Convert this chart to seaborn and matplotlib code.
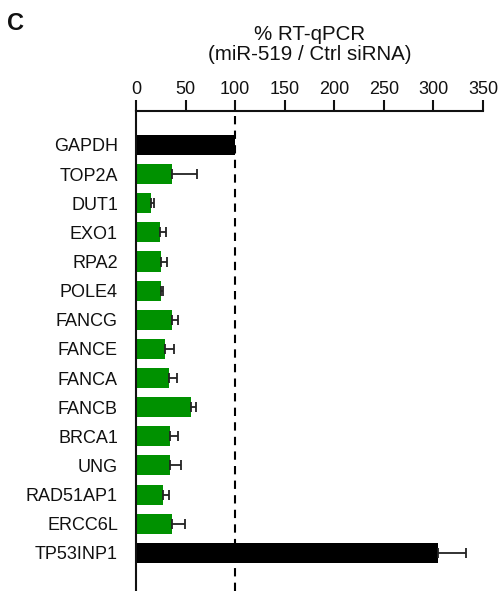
import matplotlib
matplotlib.use("Agg")
import matplotlib.pyplot as plt
import seaborn as sns
import pandas as pd

genes = ["GAPDH", "TOP2A", "DUT1", "EXO1", "RPA2", "POLE4", "FANCG", "FANCE",
         "FANCA", "FANCB", "BRCA1", "UNG", "RAD51AP1", "ERCC6L", "TP53INP1"]
values = [100, 36, 15, 24.5, 25, 25, 36, 29.5, 33, 55.5, 34, 34, 27, 36, 305]
errors = [0, 26, 3, 5.5, 6, 2, 6, 8.5, 8, 5, 8.5, 11, 6, 13, 28]
bar_colors = ["#000000"] + ["#009100"] * 13 + ["#000000"]
x_ticks = [0, 50, 100, 150, 200, 250, 300, 350]

sns.set_style("white")
plt.rcParams["font.family"] = ["Liberation Sans", "DejaVu Sans"]

df = pd.DataFrame({"gene": genes, "value": values})

fig = plt.figure(figsize=(4.98, 5.91), dpi=100)
ax = fig.add_axes([136 / 498, 0, 347 / 498, 480 / 591])

sns.barplot(data=df, x="value", y="gene", hue="gene", palette=bar_colors,
            legend=False, orient="h", width=0.69, ax=ax, saturation=1,
            edgecolor="none")
ax.errorbar(values[1:], range(1, len(genes)),
            xerr=[[0] * (len(genes) - 1), errors[1:]],
            fmt="none", ecolor="#222222", elinewidth=1.3, capsize=3.5,
            capthick=1.3)

ax.axvline(100, color="black", linestyle=(0, (4, 3)), linewidth=1.5, zorder=0)

ax.set_xlim(0, 350)
ax.set_ylim(15.31, -1.167)
ax.xaxis.tick_top()
ax.xaxis.set_label_position("top")
ax.set_xticks(x_ticks)
ax.set_xticklabels([str(t) for t in x_ticks])
ax.tick_params(axis="x", direction="out", length=8, width=1.5, labelsize=13,
               pad=1.5, colors="#111111", top=True, bottom=False)
ax.tick_params(axis="y", length=0, labelsize=13, pad=13, colors="#111111")
ax.set_xlabel("% RT-qPCR\n(miR-519 / Ctrl siRNA)", fontsize=14.8, labelpad=15,
              color="#111111", linespacing=1.05)
ax.set_ylabel("")

for side in ["bottom", "right"]:
    ax.spines[side].set_visible(False)
for side in ["top", "left"]:
    ax.spines[side].set_visible(True)
    ax.spines[side].set_linewidth(1.5)
    ax.spines[side].set_color("#111111")

fig.text(7 / 498, 1 - 30 / 591, "C", fontsize=17, fontweight="bold",
         color="#111111")

fig.savefig("out.png", dpi=100)
